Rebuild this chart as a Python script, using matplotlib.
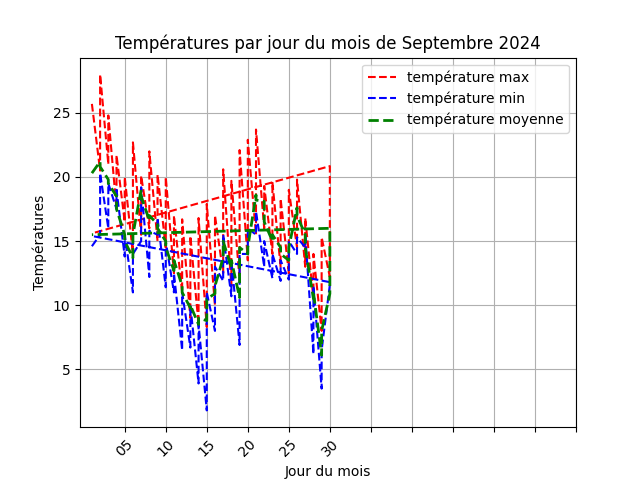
import matplotlib
matplotlib.use("Agg")
import matplotlib.pyplot as plt

jours = [1,
         2, 2, 3, 3, 4, 4, 5, 5, 6, 6, 7, 7, 8, 8, 9, 9, 10, 10,
         11, 11, 12, 12, 13, 13, 14, 14, 15, 15, 16, 16, 17, 17, 18, 18, 19, 19, 20, 20,
         21, 21, 22, 22, 23, 23, 24, 24, 25, 25, 26, 26, 27, 27, 28, 28, 29, 29, 30, 30,
         1]

temp_max = [25.7,
            20.5, 28.0, 21.0, 24.8, 17.5, 21.7, 16.5, 20.0, 14.0, 22.7,
            15.5, 20.1, 16.0, 22.0, 15.0, 20.2, 14.5, 20.0,
            12.5, 17.0, 11.0, 16.7, 9.0, 15.4, 8.5, 16.8, 8.3, 17.9,
            10.0, 17.0, 12.5, 20.6, 11.5, 19.7, 12.0, 22.1, 13.5, 22.9,
            15.5, 23.7, 16.0, 19.3, 14.0, 19.6, 13.0, 18.3, 12.5, 19.0,
            14.5, 19.8, 13.0, 16.8, 10.5, 14.0, 8.0, 15.3, 12.2, 20.85,
            15.6]

temp_min = [14.6,
            15.5, 20.3, 16.0, 19.5, 17.5, 19.0, 13.8, 15.5, 11.0, 14.0,
            15.0, 19.2, 12.2, 15.8, 15.5, 16.8, 11.4, 15.0,
            11.0, 12.5, 6.5, 11.0, 6.7, 10.0, 3.9, 8.5, 1.8, 11.0,
            8.0, 13.0, 11.9, 15.5, 10.7, 13.5, 6.9, 14.0, 14.0, 16.0,
            15.5, 17.3, 13.0, 15.0, 12.1, 14.0, 11.9, 13.5, 12.0, 15.0,
            14.0, 15.3, 14.5, 15.5, 6.2, 11.5, 3.5, 6.5, 11.6, 11.8,
            15.4]

temp_moy = [20.3,
            21.2, 20.8, 19.8, 19.5, 18.5, 17.5, 15.5, 15.0, 13.7, 15.5,
            19.0, 18.5, 16.6, 17.0, 16.3, 16.0, 15.0, 14.5,
            12.7, 13.5, 11.5, 11.0, 9.8, 10.0, 8.5, 9.0, 8.8, 10.5,
            10.9, 11.5, 13.7, 15.0, 12.9, 13.5, 10.6, 14.5, 14.0, 14.5,
            18.6, 18.2, 18.1, 16.5, 15.0, 15.5, 14.5, 14.0, 13.5, 14.5,
            17.6, 17.0, 15.5, 14.5, 10.5, 11.0, 6.1, 8.0, 10.9, 16.0,
            15.5]

tick_pos = [5, 10, 15, 20, 25, 30, 35, 40, 45, 50, 55, 60]
tick_labels = ['05', '10', '15', '20', '25', '30', '', '', '', '', '', '']

fig, ax = plt.subplots(figsize=(6.4, 4.8), dpi=100)
ax.plot(jours, temp_max, 'r--', label='température max')
ax.plot(jours, temp_min, 'b--', label='température min')
ax.plot(jours, temp_moy, 'g--', linewidth=2, label='température moyenne')
ax.set_xticks(tick_pos)
ax.set_xticklabels(tick_labels, rotation=45)
ax.set_title('Températures par jour du mois de Septembre 2024')
ax.set_xlabel('Jour du mois')
ax.set_ylabel('Températures')
ax.grid(True)
ax.legend(loc='upper right')
fig.savefig('out.png')
